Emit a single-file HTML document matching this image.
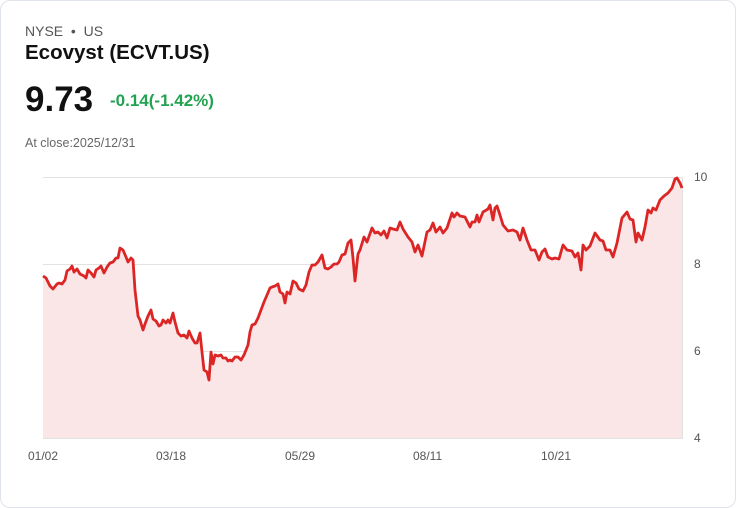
<!DOCTYPE html>
<html><head><style>
body{margin:0;background:#fff;font-family:"Liberation Sans",sans-serif;}
.card{position:absolute;left:0;top:0;width:734px;height:506px;border:1px solid #dfe3ea;border-radius:10px;}
.t{position:absolute;white-space:nowrap;}
</style></head><body>
<div class="card"></div>
<div class="t" style="left:25px;top:23px;font-size:14px;color:#555;">NYSE &nbsp;•&nbsp; US</div>
<div class="t" style="left:25px;top:41px;font-size:20.5px;font-weight:bold;color:#111;">Ecovyst (ECVT.US)</div>
<div class="t" style="left:25px;top:80px;font-size:35px;font-weight:bold;color:#111;">9.73</div>
<div class="t" style="left:110px;top:91px;font-size:17px;font-weight:bold;color:#22a352;">-0.14(-1.42%)</div>
<div class="t" style="left:25px;top:136px;font-size:12.5px;color:#666;">At close:2025/12/31</div>
<svg width="736" height="508" style="position:absolute;left:0;top:0">
<g stroke="#e2e2e2" stroke-width="1">
<line x1="43" y1="177.5" x2="683" y2="177.5"/><line x1="43" y1="264.5" x2="683" y2="264.5"/>
<line x1="43" y1="351.5" x2="683" y2="351.5"/><line x1="43" y1="438.5" x2="683" y2="438.5"/>
<line x1="682.5" y1="177" x2="682.5" y2="438"/>
</g>
<g font-size="12" fill="#555" font-family="Liberation Sans,sans-serif">
<text x="694" y="181">10</text><text x="694" y="268">8</text><text x="694" y="355">6</text><text x="694" y="442">4</text>
<text x="28" y="460">01/02</text><text x="156" y="460">03/18</text><text x="285" y="460">05/29</text><text x="413" y="460">08/11</text><text x="541" y="460">10/21</text>
</g>
<path fill="#fae6e6" stroke="none" d="M43,438 L43,276 46,278 50,286 53,289 57,284 59,283 62,284 65,280 67,271 70,269 72,266 74,272 77,269 80,274 84,276 86,278 88,270 91,273 94,277 96,270 99,268 101,266 104,273 107,267 110,263 113,262 116,258 118,258 120,248 123,250 126,257 128,262 131,258 133,260 135,290 138,316 140,320 143,330 145,324 148,316 151,310 153,319 156,321 159,326 161,325 163,320 166,323 168,320 170,323 173,313 175,322 178,333 181,336 184,335 187,338 189,331 192,338 195,343 197,343 200,333 202,352 204,370 207,372 209,380 211,352 213,364 215,355 218,356 221,355 223,358 226,358 228,361 230,360 232,361 235,357 238,357 241,360 244,355 248,345 250,332 252,325 255,324 258,318 261,310 264,302 267,295 270,288 272,287 275,286 278,284 280,292 283,294 285,303 287,292 290,294 293,281 296,283 299,289 303,291 306,285 309,272 312,265 315,265 318,262 322,255 325,268 328,269 331,267 334,264 337,264 339,262 342,255 345,254 348,243 351,240 353,258 355,281 358,254 360,250 364,237 367,242 372,228 375,233 378,232 381,235 384,231 387,238 390,228 393,229 397,230 400,222 403,229 408,237 412,242 415,252 418,245 422,256 427,232 430,230 433,223 436,232 440,227 443,233 447,228 452,213 454,217 457,213 460,216 465,217 470,227 472,222 475,222 477,215 479,222 483,212 488,209 490,205 493,220 495,208 497,206 500,215 503,225 508,231 513,230 517,232 520,240 523,228 527,240 531,250 535,250 539,260 542,252 545,249 548,257 552,259 555,258 559,259 563,245 567,250 572,251 575,257 578,253 581,270 583,245 586,250 590,246 595,233 600,240 603,241 606,250 610,250 613,257 617,243 622,218 627,212 630,219 633,220 636,242 638,233 642,240 645,227 648,210 651,213 653,208 656,210 660,200 664,196 668,193 672,188 675,179 677,178 680,183 682,188 L682,438 Z"/>
<polyline fill="none" stroke="#dc2626" stroke-width="2.8" stroke-linejoin="round" points="43,276 46,278 50,286 53,289 57,284 59,283 62,284 65,280 67,271 70,269 72,266 74,272 77,269 80,274 84,276 86,278 88,270 91,273 94,277 96,270 99,268 101,266 104,273 107,267 110,263 113,262 116,258 118,258 120,248 123,250 126,257 128,262 131,258 133,260 135,290 138,316 140,320 143,330 145,324 148,316 151,310 153,319 156,321 159,326 161,325 163,320 166,323 168,320 170,323 173,313 175,322 178,333 181,336 184,335 187,338 189,331 192,338 195,343 197,343 200,333 202,352 204,370 207,372 209,380 211,352 213,364 215,355 218,356 221,355 223,358 226,358 228,361 230,360 232,361 235,357 238,357 241,360 244,355 248,345 250,332 252,325 255,324 258,318 261,310 264,302 267,295 270,288 272,287 275,286 278,284 280,292 283,294 285,303 287,292 290,294 293,281 296,283 299,289 303,291 306,285 309,272 312,265 315,265 318,262 322,255 325,268 328,269 331,267 334,264 337,264 339,262 342,255 345,254 348,243 351,240 353,258 355,281 358,254 360,250 364,237 367,242 372,228 375,233 378,232 381,235 384,231 387,238 390,228 393,229 397,230 400,222 403,229 408,237 412,242 415,252 418,245 422,256 427,232 430,230 433,223 436,232 440,227 443,233 447,228 452,213 454,217 457,213 460,216 465,217 470,227 472,222 475,222 477,215 479,222 483,212 488,209 490,205 493,220 495,208 497,206 500,215 503,225 508,231 513,230 517,232 520,240 523,228 527,240 531,250 535,250 539,260 542,252 545,249 548,257 552,259 555,258 559,259 563,245 567,250 572,251 575,257 578,253 581,270 583,245 586,250 590,246 595,233 600,240 603,241 606,250 610,250 613,257 617,243 622,218 627,212 630,219 633,220 636,242 638,233 642,240 645,227 648,210 651,213 653,208 656,210 660,200 664,196 668,193 672,188 675,179 677,178 680,183 682,188"/>
</svg>
</body></html>
